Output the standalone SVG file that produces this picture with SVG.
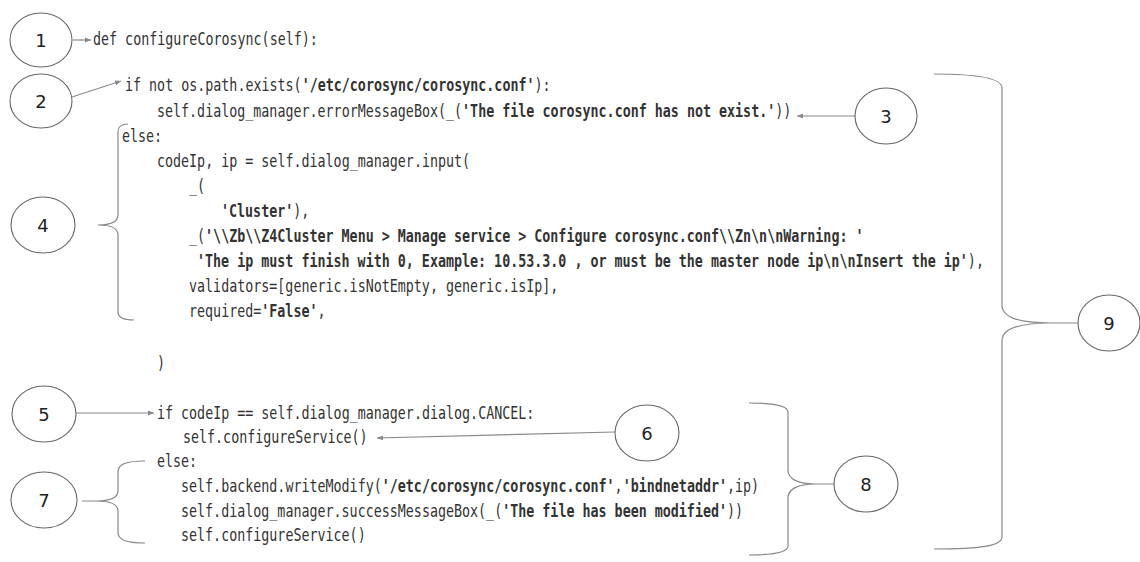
<svg xmlns="http://www.w3.org/2000/svg" width="1140" height="562" viewBox="0 0 1140 562">
<style>
.code{font-family:"DejaVu Sans Mono","Liberation Mono",monospace;font-size:17px;fill:#333;white-space:pre}
.b{font-weight:bold}
.num{font-family:"DejaVu Sans","Liberation Sans",sans-serif;font-size:18px;fill:#222;text-anchor:middle;dominant-baseline:central}
.node ellipse{fill:#fff;stroke:#666;stroke-width:1.1}
.ln{fill:none;stroke:#888;stroke-width:1.2}
</style>
<defs>
<marker id="ah" viewBox="0 0 10 10" refX="10" refY="5" markerWidth="5" markerHeight="5" orient="auto">
<path d="M0,1 L10,5 L0,9 z" fill="#888"/>
</marker>
</defs>
<rect width="1140" height="562" fill="#fff"/>
<g id="code" class="code" transform="scale(0.7856 1)">
<text x="118.4" y="45.5">def configureCorosync(self):</text>
<text x="159.1" y="91">if not os.path.exists(<tspan class="b">'/etc/corosync/corosync.conf'</tspan>):</text>
<text x="199.8" y="117">self.dialog_manager.errorMessageBox(_(<tspan class="b">'The file corosync.conf has not exist.'</tspan>))</text>
<text x="155.3" y="142.5">else:</text>
<text x="199.8" y="167.5">codeIp, ip = self.dialog_manager.input(</text>
<text x="240.6" y="192.5">_(</text>
<text x="281.3" y="217.5"><tspan class="b">'Cluster'</tspan>),</text>
<text x="240.6" y="242.5">_(<tspan class="b">'\\Zb\\Z4Cluster Menu &gt; Manage service &gt; Configure corosync.conf\\Zn\n\nWarning: '</tspan></text>
<text x="250.8" y="267.5"><tspan class="b">'The ip must finish with 0, Example: 10.53.3.0 , or must be the master node ip\n\nInsert the ip'</tspan>),</text>
<text x="240.6" y="292.5">validators=[generic.isNotEmpty, generic.isIp],</text>
<text x="240.6" y="317.5">required=<tspan class="b">'False'</tspan>,</text>
<text x="199.8" y="369.5">)</text>
<text x="199.8" y="419.5">if codeIp == self.dialog_manager.dialog.CANCEL:</text>
<text x="232.9" y="443.5">self.configureService()</text>
<text x="199.8" y="467.5">else:</text>
<text x="230.4" y="492.5">self.backend.writeModify(<tspan class="b">'/etc/corosync/corosync.conf'</tspan>,<tspan class="b">'bindnetaddr'</tspan>,ip)</text>
<text x="230.4" y="517.5">self.dialog_manager.successMessageBox(_(<tspan class="b">'The file has been modified'</tspan>))</text>
<text x="230.4" y="541.5">self.configureService()</text>
</g>
<g id="connectors">
<line class="ln" x1="73" y1="40" x2="91" y2="40" marker-end="url(#ah)"/>
<line class="ln" x1="72" y1="97" x2="121" y2="81" marker-end="url(#ah)"/>
<line class="ln" x1="855" y1="116" x2="797" y2="116" marker-end="url(#ah)"/>
<line class="ln" x1="76" y1="413" x2="154" y2="413" marker-end="url(#ah)"/>
<line class="ln" x1="615" y1="432" x2="377" y2="438" marker-end="url(#ah)"/>
<path class="ln" d="M128 124 Q118 124 118 132 L118 215 Q118 225 98 225 M98 225 Q118 225 118 235 L118 312 Q118 320 134 320"/>
<path class="ln" d="M145 461 C126 461 118 464 118 472 L118 491 C118 497 112 501 96 501 L82 501 M96 501 C112 501 118 505 118 511 L118 532 C118 540 126 543 145 543"/>
<path class="ln" d="M749 403 C772 403 788 405 788 412 L788 470 C788 479 798 484 815 484 L834 484 M815 484 C798 484 788 489 788 498 L788 546 C788 553 772 555 749 555"/>
<path class="ln" d="M934 74 C975 74 1002 78 1002 88 L1002 305 C1002 316 1015 323 1050 323 L1078 323 M1050 323 C1015 323 1002 330 1002 341 L1002 537 C1002 546 980 549 934 549"/>
</g>
<g id="n1" class="node"><ellipse cx="41" cy="40" rx="31" ry="27"/><text class="num" x="41" y="40">1</text></g>
<g id="n2" class="node"><ellipse cx="41" cy="101" rx="31" ry="27"/><text class="num" x="41" y="101">2</text></g>
<g id="n3" class="node"><ellipse cx="886" cy="116" rx="31" ry="28"/><text class="num" x="886" y="116">3</text></g>
<g id="n4" class="node"><ellipse cx="43" cy="225" rx="32" ry="28"/><text class="num" x="43" y="225">4</text></g>
<g id="n5" class="node"><ellipse cx="44" cy="414" rx="32" ry="28"/><text class="num" x="44" y="414">5</text></g>
<g id="n6" class="node"><ellipse cx="647" cy="433" rx="32" ry="28"/><text class="num" x="647" y="433">6</text></g>
<g id="n7" class="node"><ellipse cx="44" cy="500" rx="33" ry="28"/><text class="num" x="44" y="500">7</text></g>
<g id="n8" class="node"><ellipse cx="866" cy="484" rx="32" ry="28"/><text class="num" x="866" y="484">8</text></g>
<g id="n9" class="node"><ellipse cx="1109" cy="323" rx="31" ry="28"/><text class="num" x="1109" y="323">9</text></g>
</svg>
